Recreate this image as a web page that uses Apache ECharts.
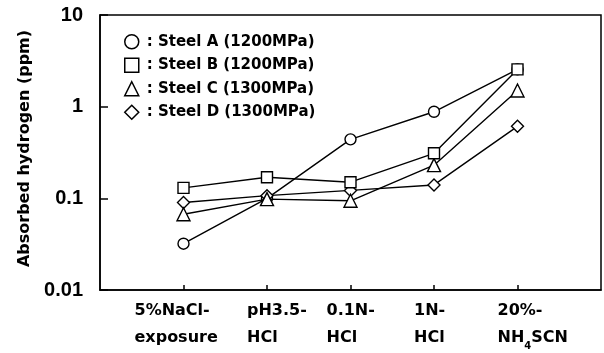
<!DOCTYPE html>
<html>
<head>
<meta charset="utf-8">
<script src="https://cdn.jsdelivr.net/npm/echarts@6/dist/echarts.min.js"></script>
<style>html,body{margin:0;padding:0;background:#fff}#c{width:604px;height:353px}</style>
</head>
<body>
<div id="c"></div>
<script>
// ---- data ----
var categories = ['', '5%NaCl-\nexposure', 'pH3.5-\nHCl', '0.1N-\nHCl', '1N-\nHCl', '20%-\nNH4SCN', ''];
var seriesNames = ['Steel A (1200MPa)', 'Steel B (1200MPa)', 'Steel C (1300MPa)', 'Steel D (1300MPa)'];
var steelA = ['-', 0.032, 0.10, 0.44, 0.88, 2.55, '-'];
var steelB = ['-', 0.13, 0.17, 0.15, 0.31, 2.55, '-'];
var steelC = ['-', 0.067, 0.098, 0.094, 0.23, 1.5, '-'];
var steelD = ['-', 0.090, 0.107, 0.122, 0.14, 0.61, '-'];
var yTickLabels = ['0.01', '0.1', '1', '10'];

// ---- layout/style ----
var FONT = "'DejaVu Sans', sans-serif";
var FONT2 = "'Liberation Sans', Arial, sans-serif";
var symbols = ['circle', 'rect', 'triangle', 'diamond'];
var symbolSizes = [11, 11, 13, 12];
var seriesZ = [3, 6, 5, 4];
var labelShift = [0, -49, -20, -24, -20, -20, 0];

var catData = categories.map(function (c, i) {
  return { value: c, textStyle: { align: 'left', padding: [0, 0, 0, labelShift[i]] } };
});

var allData = [steelA, steelB, steelC, steelD];
var series = seriesNames.map(function (n, i) {
  return {
    name: n,
    type: 'line',
    data: allData[i],
    symbol: symbols[i],
    symbolSize: symbolSizes[i],
    showAllSymbol: true,
    connectNulls: false,
    lineStyle: { color: '#000', width: 1.4 },
    itemStyle: { color: '#fff', borderColor: '#000', borderWidth: 1.4 },
    z: seriesZ[i]
  };
});

var chart = echarts.init(document.getElementById('c'), null, { renderer: 'canvas' });
chart.setOption({
  animation: false,
  backgroundColor: '#fff',
  textStyle: { fontFamily: FONT },
  grid: { left: 100, right: 3, top: 15, bottom: 63, show: true, borderColor: '#000', borderWidth: 1.5, backgroundColor: 'transparent' },
  legend: {
    orient: 'vertical',
    left: 119,
    top: 29,
    itemWidth: 14,
    itemHeight: 14,
    itemGap: 8,
    data: seriesNames.map(function (n, i) { return { name: n, icon: symbols[i] }; }),
    itemStyle: { color: '#fff', borderColor: '#000', borderWidth: 1.5 },
    formatter: function (n) { return ': ' + n; },
    textStyle: { fontFamily: FONT, fontWeight: 'bold', fontSize: 15, color: '#000', padding: [0, 0, 0, 3] }
  },
  xAxis: {
    type: 'category',
    boundaryGap: false,
    data: catData,
    axisLine: { show: true, lineStyle: { color: '#000', width: 1.5 } },
    axisTick: { show: true, inside: true, length: 5, lineStyle: { color: '#000', width: 1.5 },
      interval: function (i) { return i > 0 && i < categories.length - 1; } },
    axisLabel: {
      interval: 0,
      align: 'left',
      margin: 7,
      color: '#000',
      fontFamily: FONT,
      fontWeight: 'bold',
      fontSize: 16,
      lineHeight: 27,
      formatter: function (v) { return v.replace('NH4', 'NH{sub|4}'); },
      rich: { sub: { fontFamily: FONT, fontWeight: 'bold', fontSize: 10, verticalAlign: 'bottom', padding: [10, 0, 0, 0], lineHeight: 27 } }
    },
    splitLine: { show: false }
  },
  yAxis: {
    type: 'log',
    logBase: 10,
    min: 0.01,
    max: 10,
    name: 'Absorbed hydrogen (ppm)',
    nameLocation: 'middle',
    nameRotate: 90,
    nameGap: 67,
    nameTextStyle: { fontFamily: FONT, fontWeight: 'bold', fontSize: 16, color: '#000', padding: [0, 0, 0, 8] },
    axisLine: { show: true, lineStyle: { color: '#000', width: 1.5 } },
    axisTick: { show: true, inside: true, length: 8, lineStyle: { color: '#000', width: 1.5 } },
    minorTick: { show: false },
    splitLine: { show: false },
    axisLabel: {
      margin: 17,
      color: '#000',
      fontFamily: FONT2,
      fontWeight: 'bold',
      fontSize: 20,
      formatter: function (v) {
        var idx = Math.round(Math.log10(v)) + 2;
        return yTickLabels[idx] !== undefined ? yTickLabels[idx] : String(v);
      }
    }
  },
  series: series
});
</script>
</body>
</html>
